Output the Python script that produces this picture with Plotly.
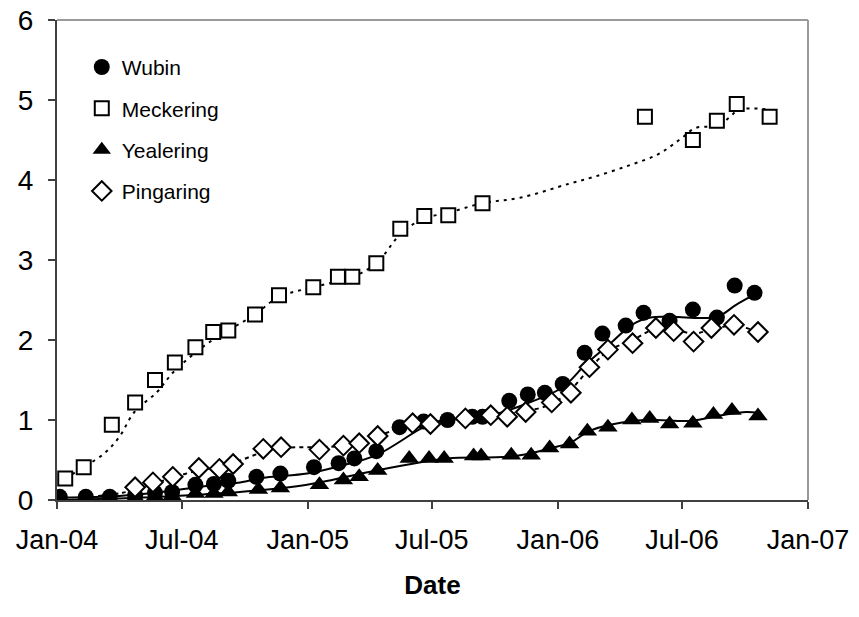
import plotly.graph_objects as go

# ---------------- data ----------------
wubin_dates = ["2004-01-05", "2004-02-12", "2004-03-18", "2004-04-24", "2004-05-23", "2004-06-17",
               "2004-07-21", "2004-08-17", "2004-09-07", "2004-10-18", "2004-11-22", "2005-01-10",
               "2005-02-15", "2005-03-10", "2005-04-11", "2005-05-15", "2005-06-19", "2005-07-24",
               "2005-08-29", "2005-09-13", "2005-10-22", "2005-11-18", "2005-12-13", "2006-01-08",
               "2006-02-09", "2006-03-07", "2006-04-10", "2006-05-06", "2006-06-13", "2006-07-17",
               "2006-08-21", "2006-09-16", "2006-10-15"]
wubin_vals = [0.04, 0.04, 0.04, 0.06, 0.09, 0.10, 0.19, 0.20, 0.24, 0.29, 0.33, 0.41,
              0.46, 0.52, 0.61, 0.91, 0.98, 1.00, 1.04, 1.04, 1.24, 1.32, 1.34, 1.45,
              1.84, 2.08, 2.18, 2.34, 2.24, 2.38, 2.28, 2.68, 2.59]

meck_dates = ["2004-01-13", "2004-02-09", "2004-03-21", "2004-04-24", "2004-05-23", "2004-06-21",
              "2004-07-21", "2004-08-16", "2004-09-07", "2004-10-16", "2004-11-20", "2005-01-09",
              "2005-02-14", "2005-03-07", "2005-04-11", "2005-05-16", "2005-06-20", "2005-07-25",
              "2005-09-13", "2006-05-08", "2006-07-17", "2006-08-21", "2006-09-19", "2006-11-06"]
meck_vals = [0.27, 0.41, 0.94, 1.22, 1.50, 1.72, 1.91, 2.10, 2.12, 2.32, 2.56, 2.66,
             2.79, 2.79, 2.96, 3.39, 3.55, 3.56, 3.71, 4.79, 4.50, 4.74, 4.95, 4.79]

yeal_dates = ["2004-01-05", "2004-02-12", "2004-03-18", "2004-04-24", "2004-05-23", "2004-06-17",
              "2004-07-21", "2004-08-17", "2004-09-07", "2004-10-21", "2004-11-22", "2005-01-18",
              "2005-02-22", "2005-03-17", "2005-04-13", "2005-05-29", "2005-06-27", "2005-07-19",
              "2005-08-31", "2005-09-11", "2005-10-25", "2005-11-23", "2005-12-20", "2006-01-18",
              "2006-02-13", "2006-03-15", "2006-04-19", "2006-05-15", "2006-06-13", "2006-07-17",
              "2006-08-16", "2006-09-12", "2006-10-20"]
yeal_vals = [0.01, 0.02, 0.02, 0.03, 0.04, 0.05, 0.08, 0.08, 0.10, 0.13, 0.15, 0.19,
             0.25, 0.29, 0.37, 0.52, 0.52, 0.52, 0.55, 0.55, 0.56, 0.56, 0.65, 0.70,
             0.86, 0.91, 1.00, 1.02, 0.95, 0.96, 1.07, 1.12, 1.05]

ping_dates = ["2004-04-24", "2004-05-20", "2004-06-18", "2004-07-26", "2004-08-25", "2004-09-14",
              "2004-10-28", "2004-11-23", "2005-01-18", "2005-02-22", "2005-03-17", "2005-04-13",
              "2005-06-03", "2005-06-29", "2005-08-19", "2005-09-25", "2005-10-19", "2005-11-15",
              "2005-12-23", "2006-01-20", "2006-02-16", "2006-03-15", "2006-04-20", "2006-05-24",
              "2006-06-19", "2006-07-18", "2006-08-13", "2006-09-15", "2006-10-20"]
ping_vals = [0.16, 0.22, 0.29, 0.40, 0.39, 0.45, 0.64, 0.66, 0.63, 0.68, 0.71, 0.80,
             0.96, 0.95, 1.02, 1.06, 1.04, 1.10, 1.22, 1.34, 1.66, 1.88, 1.96, 2.15,
             2.11, 1.98, 2.15, 2.19, 2.10]

# fitted (smoothed) curves
wubin_fit_dates = ["2004-01-05", "2004-04-01", "2004-06-01", "2004-08-01", "2004-09-24", "2004-11-01",
                   "2004-12-31", "2005-02-15", "2005-04-11", "2005-06-19", "2005-07-14", "2005-09-25",
                   "2005-11-18", "2006-01-08", "2006-02-10", "2006-03-19", "2006-04-19", "2006-05-16",
                   "2006-06-15", "2006-08-21", "2006-09-18", "2006-10-15"]
wubin_fit_vals = [0.03, 0.05, 0.10, 0.17, 0.22, 0.28, 0.33, 0.42, 0.56, 0.91, 0.99, 1.06,
                  1.21, 1.41, 1.69, 1.96, 2.19, 2.28, 2.29, 2.29, 2.44, 2.57]

meck_fit_dates = ["2004-01-13", "2004-02-09", "2004-03-11", "2004-04-01", "2004-04-23", "2004-05-26",
                  "2004-06-18", "2004-07-31", "2004-09-07", "2004-10-16", "2004-11-20", "2005-01-09",
                  "2005-03-07", "2005-04-11", "2005-05-18", "2005-06-20", "2005-07-25", "2005-09-13",
                  "2005-11-08", "2006-01-16", "2006-02-23", "2006-04-14", "2006-05-27", "2006-06-27",
                  "2006-07-21", "2006-08-23", "2006-09-08", "2006-09-23", "2006-11-06"]
meck_fit_vals = [0.27, 0.41, 0.59, 0.79, 1.10, 1.35, 1.59, 1.91, 2.12, 2.32, 2.54, 2.66,
                 2.79, 2.96, 3.34, 3.52, 3.59, 3.71, 3.78, 3.95, 4.04, 4.18, 4.32, 4.50,
                 4.65, 4.68, 4.78, 4.88, 4.88]

yeal_fit_dates = ["2004-01-05", "2004-04-01", "2004-06-01", "2004-08-01", "2004-09-24", "2004-12-31",
                  "2005-04-11", "2005-06-13", "2005-07-24", "2005-10-31", "2005-12-23", "2006-01-20",
                  "2006-02-18", "2006-04-22", "2006-05-24", "2006-07-14", "2006-08-28", "2006-10-03",
                  "2006-10-20"]
yeal_fit_vals = [0.00, 0.02, 0.04, 0.07, 0.10, 0.19, 0.37, 0.47, 0.52, 0.55, 0.65, 0.72,
                 0.87, 0.99, 1.00, 0.99, 1.06, 1.10, 1.09]

ping_fit_dates = ["2004-03-01", "2004-04-06", "2004-05-20", "2004-06-18", "2004-07-26", "2004-08-25",
                  "2004-09-14", "2004-10-28", "2004-11-23", "2005-01-18", "2005-02-22", "2005-03-17",
                  "2005-04-13", "2005-06-03", "2005-06-29", "2005-08-19", "2005-09-25", "2005-10-19",
                  "2005-11-15", "2005-12-23", "2006-01-20", "2006-02-16", "2006-03-15", "2006-04-20",
                  "2006-05-24", "2006-06-19", "2006-07-18", "2006-08-13", "2006-09-15", "2006-10-20"]
ping_fit_vals = [0.05, 0.09, 0.20, 0.28, 0.37, 0.41, 0.46, 0.60, 0.65, 0.66, 0.68, 0.72,
                 0.80, 0.95, 0.98, 1.02, 1.05, 1.07, 1.11, 1.20, 1.38, 1.64, 1.86, 2.00,
                 2.14, 2.13, 2.08, 2.13, 2.18, 2.10]

x_range = ["2004-01-01", "2007-01-01"]
x_title = "Date"

FONT = "Liberation Sans, Arial, sans-serif"
BLACK = "#000000"

fig = go.Figure()

# smoothed lines (no legend)
fig.add_trace(go.Scatter(x=meck_fit_dates, y=meck_fit_vals, mode="lines", line_shape="spline",
                         line=dict(color=BLACK, width=2, dash="3px,5px"), showlegend=False, hoverinfo="skip"))
fig.add_trace(go.Scatter(x=ping_fit_dates, y=ping_fit_vals, mode="lines", line_shape="spline",
                         line=dict(color=BLACK, width=2, dash="4px,4px"), showlegend=False, hoverinfo="skip"))
fig.add_trace(go.Scatter(x=yeal_fit_dates, y=yeal_fit_vals, mode="lines", line_shape="spline",
                         line=dict(color=BLACK, width=2), showlegend=False, hoverinfo="skip"))
fig.add_trace(go.Scatter(x=wubin_fit_dates, y=wubin_fit_vals, mode="lines", line_shape="spline",
                         line=dict(color=BLACK, width=2), showlegend=False, hoverinfo="skip"))

# markers
fig.add_trace(go.Scatter(x=yeal_dates, y=yeal_vals, mode="markers", name="Yealering",
                         legendgroup="y", legendrank=3,
                         marker=dict(symbol="triangle-up", size=17, color=BLACK)))
fig.add_trace(go.Scatter(x=wubin_dates, y=wubin_vals, mode="markers", name="Wubin",
                         legendgroup="w", legendrank=1,
                         marker=dict(symbol="circle", size=16, color=BLACK)))
fig.add_trace(go.Scatter(x=meck_dates, y=meck_vals, mode="markers", name="Meckering",
                         legendgroup="m", legendrank=2,
                         marker=dict(symbol="square", size=14, color="white",
                                     line=dict(color=BLACK, width=2))))
fig.add_trace(go.Scatter(x=ping_dates, y=ping_vals, mode="markers", name="Pingaring",
                         legendgroup="p", legendrank=4,
                         marker=dict(symbol="diamond", size=15, color="white",
                                     line=dict(color=BLACK, width=2))))

fig.update_layout(
    width=859, height=617,
    margin=dict(l=57, r=51, t=20, b=117),
    paper_bgcolor="white", plot_bgcolor="white",
    font=dict(family=FONT, color=BLACK, size=24),
    legend=dict(x=0.033, y=0.944, xanchor="left", yanchor="top",
                bgcolor="rgba(0,0,0,0)", font=dict(size=21, family=FONT),
                tracegroupgap=11, itemwidth=30),
    showlegend=True,
    shapes=[
        dict(type="line", xref="paper", yref="paper", x0=0, x1=1, y0=1, y1=1,
             line=dict(color="#9a9a9a", width=2)),
        dict(type="line", xref="paper", yref="paper", x0=1, x1=1, y0=0, y1=1,
             line=dict(color="#9a9a9a", width=2)),
    ],
)

fig.update_xaxes(
    type="date", range=x_range, dtick="M6", tick0="2004-01-01", tickformat="%b-%y",
    automargin=False,
    showgrid=False, zeroline=False, showline=True, linecolor="#404040", linewidth=2,
    ticks="outside", ticklen=7, tickwidth=2, tickcolor="#404040",
    tickfont=dict(size=27, family=FONT), ticklabelstandoff=8,
    title=dict(text="<b>" + x_title + "</b>", font=dict(size=26, family=FONT), standoff=21),
)
fig.update_yaxes(
    range=[0, 6], dtick=1, automargin=False, showgrid=False, zeroline=False, showline=True,
    linecolor="#404040", linewidth=2, ticks="outside", ticklen=7, tickwidth=2, tickcolor="#404040",
    tickfont=dict(size=28, family=FONT), ticklabelstandoff=9,
)

fig.write_html("out.html")
